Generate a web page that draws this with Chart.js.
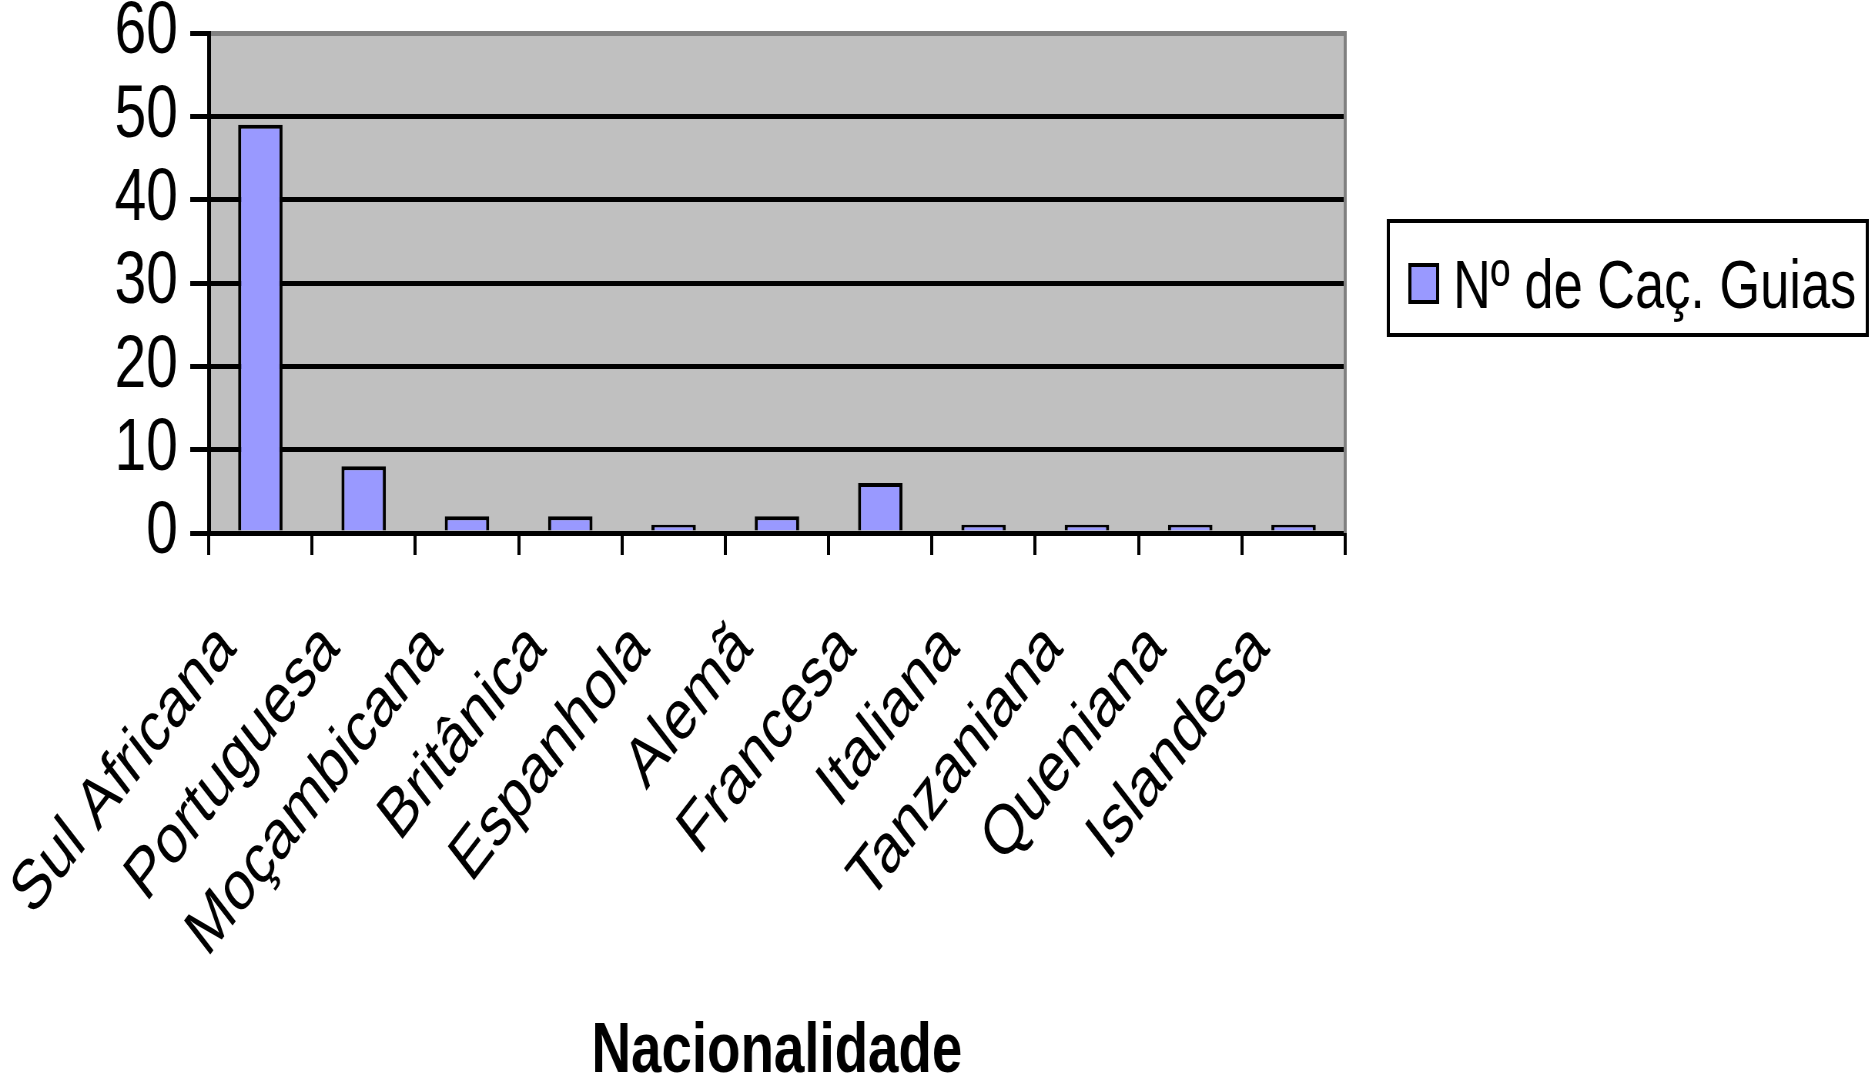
<!DOCTYPE html>
<html>
<head>
<meta charset="utf-8">
<script src="https://cdn.jsdelivr.net/npm/chart.js@4.4.1/dist/chart.umd.min.js"></script>
<style>
  html, body { margin: 0; padding: 0; background: #fff; overflow: hidden; }
  #wrap {
    width: 2429px;
    height: 1077px;
    transform: scaleX(0.77);
    transform-origin: 0 0;
  }
</style>
</head>
<body>
<div id="wrap">
  <canvas id="guiasChart" width="2429" height="1077"></canvas>
</div>
<script>
const nacionalidades = ['Sul Africana', 'Portuguesa', 'Moçambicana', 'Britânica', 'Espanhola', 'Alemã', 'Francesa', 'Italiana', 'Tanzaniana', 'Queniana', 'Islandesa'];
const cacadoresGuias = [49, 8, 2, 2, 1, 2, 6, 1, 1, 1, 1];
const serieNome = 'Nº de Caç. Guias';
const eixoY = { min: 0, max: 60, step: 10 };

const FONT = "'Liberation Sans', Arial, sans-serif";
Chart.defaults.font.family = FONT;
Chart.defaults.color = '#000';

// grey plot area plus its grey right edge
const plotArea = {
    id: 'plotArea',
    beforeDraw(chart) {
        const { ctx, chartArea: a } = chart;
        ctx.save();
        ctx.fillStyle = '#C0C0C0';
        ctx.fillRect(a.left, a.top, a.right - a.left, a.bottom - a.top);
        ctx.restore();
    },
    afterDraw(chart) {
        const { ctx, chartArea: a } = chart;
        ctx.save();
        ctx.strokeStyle = '#808080';
        ctx.lineWidth = 4;
        ctx.beginPath();
        ctx.moveTo(a.right, a.top - 2);
        ctx.lineTo(a.right, a.bottom);
        ctx.stroke();
        ctx.restore();
    }
};

// boxed legend on the right
const legendBox = {
    id: 'legendBox',
    afterDraw(chart) {
        const ctx = chart.ctx;
        const ds = chart.data.datasets[0];
        ctx.save();
        ctx.strokeStyle = '#000';
        ctx.lineWidth = 4;
        ctx.strokeRect(1803, 221, 622, 114);
        ctx.fillStyle = ds.backgroundColor;
        ctx.fillRect(1831, 265, 36, 37);
        ctx.strokeRect(1831, 265, 36, 37);
        ctx.fillStyle = '#000';
        ctx.font = '68px ' + FONT;
        ctx.textBaseline = 'alphabetic';
        ctx.fillText(ds.label, 1887, 308);
        ctx.restore();
    }
};

new Chart(document.getElementById('guiasChart'), {
    type: 'bar',
    data: {
        labels: nacionalidades,
        datasets: [{
            label: serieNome,
            data: cacadoresGuias,
            backgroundColor: '#9999FF',
            borderColor: '#000',
            borderWidth: 4,
            barPercentage: 0.43,
            categoryPercentage: 1
        }]
    },
    options: {
        responsive: false,
        animation: false,
        layout: { padding: { top: 33, right: 682, bottom: 0, left: 0 } },
        plugins: {
            legend: { display: false },
            tooltip: { enabled: false }
        },
        scales: {
            x: {
                offset: true,
                grid: {
                    offset: true,
                    drawOnChartArea: false,
                    color: '#000',
                    lineWidth: 4,
                    tickLength: 22
                },
                border: { color: '#000', width: 5 },
                ticks: {
                    autoSkip: false,
                    minRotation: 45,
                    maxRotation: 45,
                    padding: 52,
                    labelOffset: -43,
                    font: { size: 70 }
                },
                title: {
                    display: true,
                    text: 'Nacionalidade',
                    font: { size: 71, weight: 'bold', lineHeight: 0.7 },
                    padding: 0
                },
                afterFit(scale) {
                    scale.height = 1077 - 533;
                    scale.paddingLeft = 0;
                    scale.paddingRight = 0;
                }
            },
            y: {
                min: eixoY.min,
                max: eixoY.max,
                grid: {
                    color: ctx => ctx.tick && ctx.tick.value === eixoY.max ? '#808080' : '#000',
                    tickColor: '#000',
                    lineWidth: 5,
                    tickLength: 24
                },
                border: { color: '#000', width: 5 },
                ticks: {
                    autoSkip: false,
                    stepSize: eixoY.step,
                    padding: 16,
                    font: { size: 74 }
                },
                afterFit(scale) {
                    scale.width = 271;
                    scale.paddingTop = 0;
                    scale.paddingBottom = 0;
                }
            }
        }
    },
    plugins: [plotArea, legendBox]
});
</script>
</body>
</html>
